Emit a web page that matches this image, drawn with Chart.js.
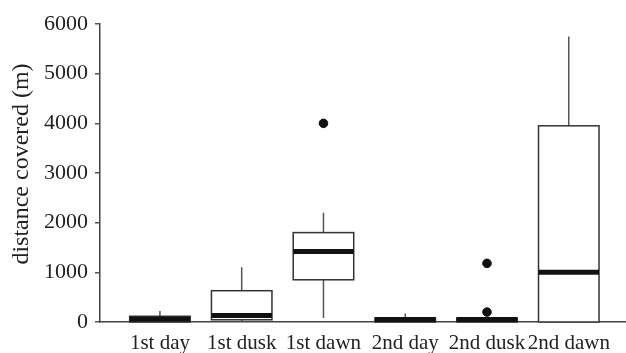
<html>
  <head>
    <title>distance covered</title>
    <style>
      body { margin: 0; background: #fff; font-family: "Liberation Serif", serif; }
      .chart-container { position: relative; width: 626px; height: 353px; }
    </style>
    <script src="https://cdn.jsdelivr.net/npm/chart.js"></script>
  </head>
  <body>
    <div class="chart-container">
      <canvas id="boxChart"></canvas>
    </div>
    <script>
      // box plot values (metres)
      const categories = ["1st day", "1st dusk", "1st dawn", "2nd day", "2nd dusk", "2nd dawn"];
      const whiskerLow = [0, 0, 80, 0, 0, 0];
      const q1 = [0, 45, 850, 0, 0, 0];
      const medians = [55, 130, 1420, 40, 40, 1000];
      const q3 = [115, 630, 1800, 80, 80, 3950];
      const whiskerHigh = [220, 1100, 2200, 170, 80, 5750];
      const outlierCat = [2, 4, 4];
      const outlierVal = [4000, 1180, 200];
      const yTicks = [0, 1000, 2000, 3000, 4000, 5000, 6000];
      const yTitle = "distance covered (m)";

      const serif = "Liberation Serif, Times New Roman, serif";

      // draws whiskers, boxes and medians with the chart's scales
      const boxPlugin = {
        id: "boxes",
        afterDatasetsDraw(chart) {
          const ctx = chart.ctx;
          const x = chart.scales.x;
          const y = chart.scales.y;
          ctx.save();
          for (let i = 0; i < categories.length; i++) {
            let xc = x.getPixelForValue(i);
            let half = x.getPixelForValue(i + 0.37) - xc;
            // whiskers
            ctx.strokeStyle = "#555";
            ctx.lineWidth = 1.5;
            ctx.beginPath();
            ctx.moveTo(xc, y.getPixelForValue(q3[i]));
            ctx.lineTo(xc, y.getPixelForValue(whiskerHigh[i]));
            ctx.moveTo(xc, y.getPixelForValue(q1[i]));
            ctx.lineTo(xc, y.getPixelForValue(whiskerLow[i]));
            ctx.stroke();
            // box
            let top = y.getPixelForValue(q3[i]);
            let bottom = y.getPixelForValue(q1[i]);
            ctx.fillStyle = "#fff";
            ctx.fillRect(xc - half, top, half * 2, bottom - top);
            ctx.strokeStyle = "#333";
            ctx.strokeRect(xc - half, top, half * 2, bottom - top);
            // median
            let my = Math.min(y.getPixelForValue(medians[i]), y.bottom - 2.5);
            ctx.strokeStyle = "#111";
            ctx.lineWidth = 5;
            ctx.beginPath();
            ctx.moveTo(xc - half, my);
            ctx.lineTo(xc + half, my);
            ctx.stroke();
          }
          ctx.restore();
        }
      };

      // y axis title, placed a bit above the middle like the original
      const titlePlugin = {
        id: "ytitle",
        afterDraw(chart) {
          const ctx = chart.ctx;
          ctx.save();
          ctx.translate(22, 164);
          ctx.rotate(-Math.PI / 2);
          ctx.font = "24px " + serif;
          ctx.fillStyle = "#222";
          ctx.textAlign = "center";
          ctx.textBaseline = "middle";
          ctx.fillText(yTitle, 0, 0);
          ctx.restore();
        }
      };

      new Chart(document.getElementById("boxChart"), {
        type: "scatter",
        data: {
          datasets: [
            {
              label: "outliers",
              data: outlierCat.map((c, k) => ({ x: c, y: outlierVal[k] })),
              backgroundColor: "#111",
              borderColor: "#111",
              pointRadius: 4.3
            }
          ]
        },
        options: {
          responsive: true,
          maintainAspectRatio: false,
          animation: false,
          layout: { autoPadding: false, padding: { top: 24, right: 0, bottom: 0, left: 0 } },
          plugins: {
            legend: { display: false },
            tooltip: { enabled: false }
          },
          scales: {
            x: {
              type: "linear",
              min: -0.733,
              max: 5.7,
              afterBuildTicks: (scale) => {
                scale.ticks = categories.map((c, i) => ({ value: i }));
              },
              afterFit: (scale) => {
                scale.height = 31;
                scale.paddingLeft = 0;
                scale.paddingRight = 0;
              },
              ticks: {
                autoSkip: false,
                maxRotation: 0,
                padding: 1,
                color: "#222",
                font: { family: serif, size: 21 },
                callback: (v) => categories[v]
              },
              grid: { display: false },
              border: { display: true, color: "#444", width: 1.5 }
            },
            y: {
              min: 0,
              max: 6000,
              afterBuildTicks: (scale) => {
                scale.ticks = yTicks.map((v) => ({ value: v }));
              },
              afterFit: (scale) => { scale.width = 100; },
              ticks: {
                padding: 7,
                color: "#222",
                font: { family: serif, size: 22 },
                callback: (v) => String(v)
              },
              grid: { drawOnChartArea: false, drawTicks: true, tickLength: 5, color: "#555", lineWidth: 1.5 },
              border: { display: true, color: "#444", width: 1.5 }
            }
          }
        },
        plugins: [boxPlugin, titlePlugin]
      });
    </script>
  </body>
</html>
